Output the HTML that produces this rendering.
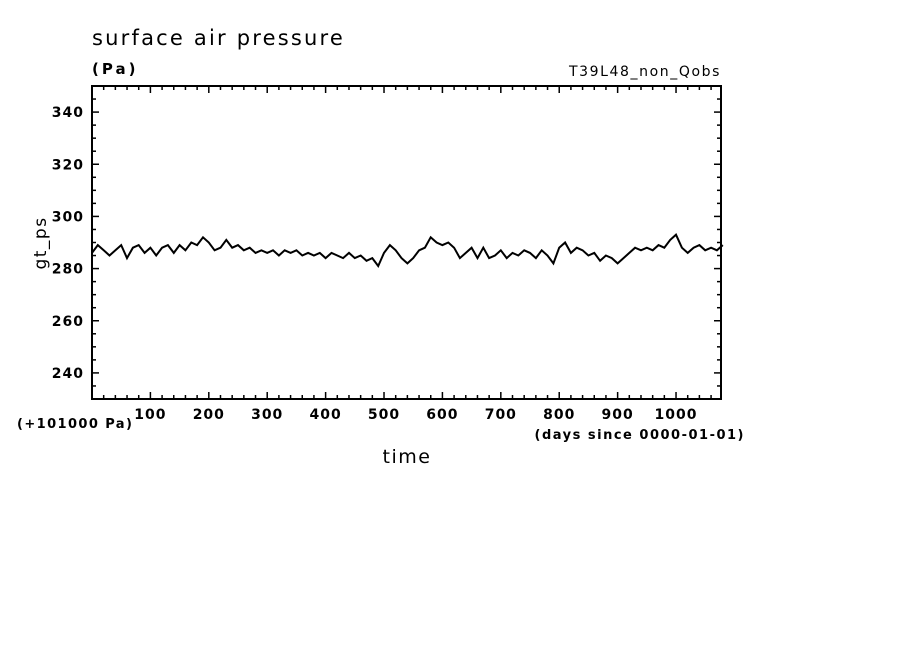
<!DOCTYPE html>
<html><head><meta charset="utf-8"><style>
body{margin:0;background:#fff;}
svg{display:block;font-family:"DejaVu Sans","Liberation Sans",sans-serif;}
</style></head><body>
<svg width="904" height="654" viewBox="0 0 904 654">
<text x="92" y="45" font-size="21" letter-spacing="2.2">surface air pressure</text>
<text x="92" y="74" font-size="15" letter-spacing="3" font-weight="bold">(Pa)</text>
<text x="721" y="76" font-size="14" letter-spacing="1.6" text-anchor="end">T39L48_non_Qobs</text>
<text x="17" y="428" font-size="13" letter-spacing="1.4" font-weight="bold">(+101000 Pa)</text>
<text x="745" y="439" font-size="13" letter-spacing="1.5" font-weight="bold" text-anchor="end">(days since 0000-01-01)</text>
<text x="407" y="463" font-size="19" letter-spacing="1.5" text-anchor="middle">time</text>
<text transform="translate(46,243) rotate(-90)" font-size="17" letter-spacing="1.5" text-anchor="middle">gt_ps</text>
<g id="axes"></g>
<rect x="92" y="86" width="629" height="313" fill="none" stroke="#000" stroke-width="2"/>
<polyline id="line" fill="none" stroke="#000" stroke-width="2"/>
</svg>
<script>
const days=[0,10,20,30,40,50,60,70,80,90,100,110,120,130,140,150,160,170,180,190,200,210,220,230,240,250,260,270,280,290,300,310,320,330,340,350,360,370,380,390,400,410,420,430,440,450,460,470,480,490,500,510,520,530,540,550,560,570,580,590,600,610,620,630,640,650,660,670,680,690,700,710,720,730,740,750,760,770,780,790,800,810,820,830,840,850,860,870,880,890,900,910,920,930,940,950,960,970,980,990,1000,1010,1020,1030,1040,1050,1060,1070,1080];
const values=[286,289,287,285,287,289,284,288,289,286,288,285,288,289,286,289,287,290,289,292,290,287,288,291,288,289,287,288,286,287,286,287,285,287,286,287,285,286,285,286,284,286,285,284,286,284,285,283,284,281,286,289,287,284,282,284,287,288,292,290,289,290,288,284,286,288,284,288,284,285,287,284,286,285,287,286,284,287,285,282,288,290,286,288,287,285,286,283,285,284,282,284,286,288,287,288,287,289,288,291,293,288,286,288,289,287,288,287,289];
const xTicks=[100,200,300,400,500,600,700,800,900,1000];
const yTicks=[240,260,280,300,320,340];
const X0=92,X1=721,Y0=399,Y1=86,dMin=0,dMax=1077,vMin=230,vMax=350;
const sx=d=>X0+(d-dMin)/(dMax-dMin)*(X1-X0);
const sy=v=>Y0-(v-vMin)/(vMax-vMin)*(Y0-Y1);
const NS="http://www.w3.org/2000/svg";
const g=document.getElementById('axes');
function ln(x1,y1,x2,y2,name){const l=document.createElementNS(NS,'line');l.setAttribute('x1',x1);l.setAttribute('y1',y1);l.setAttribute('x2',x2);l.setAttribute('y2',y2);l.setAttribute('stroke','#000');l.setAttribute('stroke-width','1.5');


g.appendChild(l);}
function tx(x,y,s,anchor,name){const t=document.createElementNS(NS,'text');t.setAttribute('x',x);t.setAttribute('y',y);t.setAttribute('font-size','14');t.setAttribute('font-weight','bold');t.setAttribute('letter-spacing','1');t.setAttribute('text-anchor',anchor);t.textContent=s;


g.appendChild(t);}
for(let d=20;d<=dMax;d+=20){const x=sx(d);const maj=d%100===0;const L=maj?7:4;ln(x,Y0,x,Y0-L,'x-tick');ln(x,Y1,x,Y1+L,'x-tick-top');}
xTicks.forEach(d=>tx(sx(d),419,String(d),'middle','x-tick-label'));
for(let v=235;v<350;v+=5){const y=sy(v);const maj=v%20===0;const L=maj?7:4;ln(X0,y,X0+L,y,'y-tick');ln(X1,y,X1-L,y,'y-tick-right');}
yTicks.forEach(v=>tx(84,sy(v)+5,String(v),'end','y-tick-label'));
document.getElementById('line').setAttribute('points',days.map((d,i)=>sx(d).toFixed(1)+','+sy(values[i]).toFixed(1)).join(' '));
</script>
</body></html>
